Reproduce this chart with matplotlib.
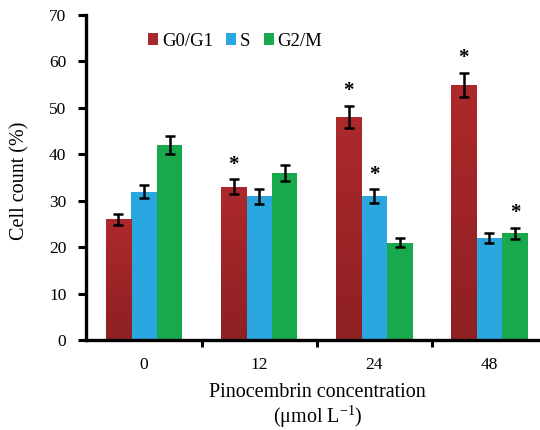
import numpy as np
import matplotlib
matplotlib.use("Agg")
import matplotlib.pyplot as plt
from matplotlib.colors import LinearSegmentedColormap

plt.rcParams['font.family'] = ['Liberation Serif', 'DejaVu Serif']
plt.rcParams['mathtext.fontset'] = 'custom'
plt.rcParams['mathtext.rm'] = 'Liberation Serif'

categories = ['0', '12', '24', '48']
series_names = ['G0/G1', 'S', 'G2/M']
g0g1 = [26, 33, 48, 55]
s_phase = [32, 31, 31, 22]
g2m = [42, 36, 21, 23]
g0g1_err = [1.2, 1.6, 2.4, 2.6]
s_err = [1.5, 1.6, 1.5, 1.0]
g2m_err = [2.0, 1.7, 1.0, 1.2]
# significance markers (True -> asterisk)
g0g1_sig = [False, True, True, True]
s_sig = [False, False, True, False]
g2m_sig = [False, False, False, True]

colors = ['#a8282b', '#2aa7e1', '#18a94d']

fig = plt.figure(figsize=(5.4, 4.3), dpi=100)
ax = fig.add_axes([0.159, 0.209, 0.841, 0.756])

x = np.arange(len(categories))
w = 0.222
vals = [g0g1, s_phase, g2m]
errs = [g0g1_err, s_err, g2m_err]
sigs = [g0g1_sig, s_sig, g2m_sig]

red_cmap = LinearSegmentedColormap.from_list('r', ['#8e2023', '#ad292c'])
for i, (v, e, sg, c, name) in enumerate(zip(vals, errs, sigs, colors, series_names)):
    xs = x + (i - 1) * w
    bars = ax.bar(xs, v, width=w, color=c, edgecolor='none', label=name, zorder=2)
    if i == 0:
        grad = np.linspace(0, 1, 100).reshape(-1, 1)
        for b in bars:
            bx, by = b.get_x(), b.get_y()
            im = ax.imshow(grad, extent=[bx, bx + b.get_width(), by, by + b.get_height()],
                           origin='lower', cmap=red_cmap, aspect='auto', zorder=2.1)
            im.set_clip_path(b)
    ax.errorbar(xs, v, yerr=e, fmt='none', ecolor='black', elinewidth=1.8,
                capsize=3.5, capthick=1.8, zorder=3)
    for xx, vv, ee, s in zip(xs, v, e, sg):
        if s:
            ax.text(xx, vv + ee + 1.0, '*', ha='center', va='bottom', fontsize=15,
                    fontweight='bold', zorder=4)

ax.set_xlim(-0.505, 3.44)
ax.set_ylim(0, 70)
ax.set_yticks(np.arange(0, 71, 10))
ax.set_xticks(x)
ax.set_xticklabels(categories)
ax.set_xticks([0.5, 1.5, 2.5], minor=True)
ax.tick_params(axis='x', which='major', length=0, pad=12, labelsize=12.5)
ax.tick_params(axis='x', which='minor', length=5, width=2.2, direction='out')
ax.tick_params(axis='y', length=6, width=2.2, direction='out', labelsize=12.5, pad=8)

for side in ['top', 'right']:
    ax.spines[side].set_visible(False)
for side in ['left', 'bottom']:
    ax.spines[side].set_linewidth(2.4)

ax.set_ylabel('Cell count (%)', fontsize=14.5)
ax.yaxis.set_label_coords(-0.125, 0.49, transform=ax.transAxes)
ax.set_xlabel('Pinocembrin concentration\n(\u03bcmol L$^{-1}$)', fontsize=14.5,
              linespacing=1.05)
ax.xaxis.set_label_coords(0.51, -0.133, transform=ax.transAxes)
ax.xaxis.label.set_va('top')

leg = ax.legend(loc='center left', bbox_to_anchor=(0.12, 0.92), ncol=3, frameon=False,
                fontsize=13.5, handlelength=0.55, handleheight=0.55, handletextpad=0.2,
                columnspacing=0.7, borderaxespad=0.0)

fig.savefig('out.png', dpi=100)
